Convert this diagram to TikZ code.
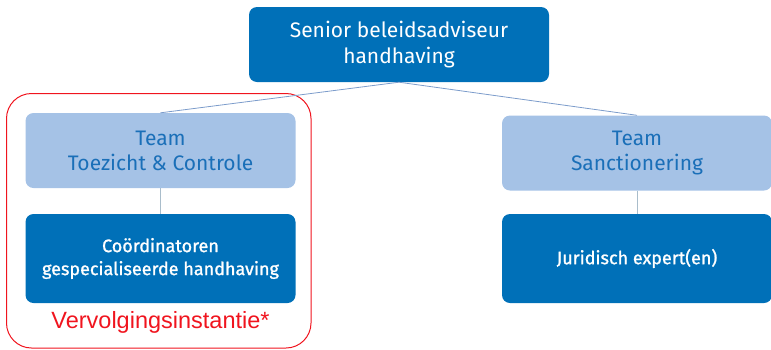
\documentclass[tikz,border=0pt]{standalone}
\usepackage{fontspec}
\setmainfont{Fira Sans}
\newfontfamily\medfont{Fira Sans}[FakeBold=1.2]
\newfontfamily\arialfont{Liberation Sans}
\definecolor{boxdark}{HTML}{0070B8}
\definecolor{boxlight}{HTML}{A5C2E6}
\definecolor{teamtext}{HTML}{1A6FB8}
\definecolor{toplink}{HTML}{7C9CCB}
\definecolor{sublink}{HTML}{A9BDCB}
\definecolor{framered}{HTML}{F0141E}
\begin{document}
\begin{tikzpicture}[x=1pt, y=-1pt,
  darkbox/.style={shape=rectangle, rounded corners=8pt, fill=boxdark, text=white, align=center},
  lightbox/.style={shape=rectangle, rounded corners=8pt, fill=boxlight, text=teamtext, align=center,
    minimum width=270pt, minimum height=75pt, font=\fontsize{21}{25}\selectfont},
  unitbox/.style={darkbox, minimum width=270pt, minimum height=89pt, font=\medfont\fontsize{18}{23}\selectfont},
  toplinkline/.style={-, line width=0.8pt, draw=toplink},
  sublinkline/.style={-, line width=1pt, draw=sublink}]
\useasboundingbox (0,0) rectangle (771,349);
% red frame round the left column
\draw[framered, line width=1pt, rounded corners=25pt] (6.5,93.5) rectangle (311,348);
\node[darkbox, minimum width=300pt, minimum height=75pt, font=\fontsize{21}{26}\selectfont] (senior) at (399,44.5) {Senior beleidsadviseur\\handhaving};
\node[lightbox] (toezicht) at (160.5,150.5) {Team\\Toezicht \& Controle};
\node[lightbox] (sanctie) at (637,153) {Team\\Sanctionering};
\node[unitbox] (coord) at (160.5,258.5) {Coördinatoren\\gespecialiseerde handhaving};
\node[unitbox] (jurist) at (637,258.5) {Juridisch expert(en)};
\node[text=framered, font=\arialfont\fontsize{23.5}{26}\selectfont] (vervolging) at (160.5,322) {Vervolgingsinstantie*};
\path [toplinkline] (senior.south) edge (toezicht.north);
\path [toplinkline] (senior.south) edge (sanctie.north);
\path [sublinkline] (toezicht) edge (coord);
\path [sublinkline] (sanctie) edge (jurist);
\end{tikzpicture}
\end{document}
